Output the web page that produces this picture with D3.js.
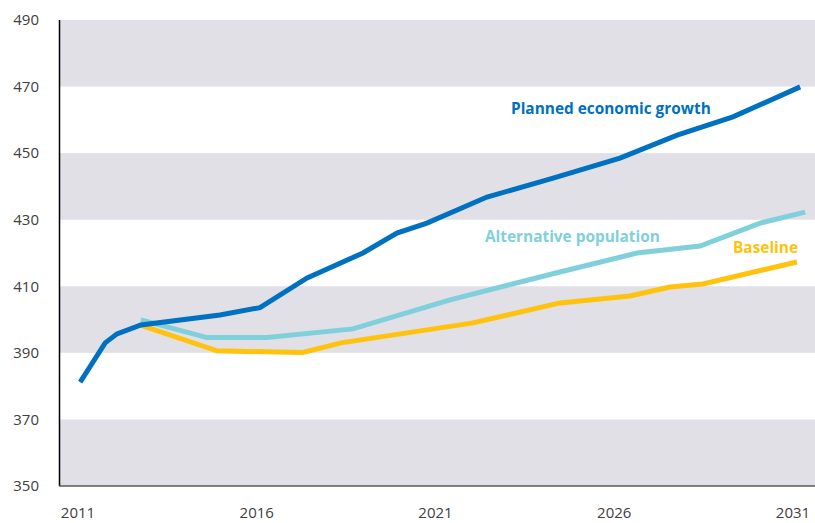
<!DOCTYPE html>
<html>
<head>
<meta charset="utf-8">
<script src="https://cdn.jsdelivr.net/npm/d3@7"></script>
<style>
  body { margin: 0; background: #fff; }
  text { font-family: "Open Sans", "Noto Sans", sans-serif; }
</style>
</head>
<body>
<div id="chart"></div>
<script>
// years (fractional, as plotted) and values for each scenario
var growthYears = [2011.06, 2011.76, 2012.09, 2012.76, 2014.97, 2016.09, 2017.41, 2018.97, 2019.92, 2020.76, 2022.44, 2024.29, 2026.16, 2027.76, 2029.32, 2031.2];
var growthVals  = [381.2, 393.0, 395.7, 398.4, 401.4, 403.6, 412.5, 420.0, 426.0, 429.0, 436.8, 442.5, 448.5, 455.4, 460.9, 469.9];

var altYears = [2012.76, 2014.61, 2016.29, 2018.69, 2021.41, 2024.48, 2026.64, 2028.40, 2030.08, 2031.34];
var altVals  = [399.9, 394.6, 394.6, 397.2, 405.9, 414.3, 420.0, 422.1, 429.0, 432.3];

var baseYears = [2012.73, 2014.89, 2016.29, 2017.29, 2018.36, 2022.05, 2024.48, 2026.44, 2027.56, 2028.48, 2031.11];
var baseVals  = [398.4, 390.6, 390.3, 390.1, 393.0, 399.0, 405.0, 407.1, 409.8, 410.7, 417.3];

var xTicks = [2011, 2016, 2021, 2026, 2031];
var yTicks = [350, 370, 390, 410, 430, 450, 470, 490];

var width = 815, height = 523;
var plotLeft = 59, plotRight = 815;

var svg = d3.select("#chart").append("svg")
    .attr("width", width)
    .attr("height", height);

var x = d3.scaleLinear().domain([2011, 2031]).range([78, 793]);
var y = d3.scaleLinear().domain([350, 490]).range([486, 20]);

// alternating bands
var bands = [];
for (var i = 0; i < yTicks.length - 1; i++) {
    if (i % 2 === 0) bands.push([yTicks[i], yTicks[i + 1]]);
}
svg.selectAll("rect.band")
    .data(bands)
    .enter().append("rect")
    .attr("class", "band")
    .attr("x", plotLeft)
    .attr("width", plotRight - plotLeft)
    .attr("y", function(d) { return y(d[1]); })
    .attr("height", function(d) { return y(d[0]) - y(d[1]); })
    .attr("fill", "#e1e0e6");

// axes lines
svg.append("line")
    .attr("x1", plotLeft + 0.5).attr("x2", plotLeft + 0.5)
    .attr("y1", y(490)).attr("y2", y(350))
    .attr("stroke", "#000").attr("stroke-width", 1.5);
svg.append("line")
    .attr("x1", plotLeft).attr("x2", plotRight)
    .attr("y1", y(350)).attr("y2", y(350))
    .attr("stroke", "#595959").attr("stroke-width", 1.5);

// tick labels
svg.selectAll("text.ylab")
    .data(yTicks)
    .enter().append("text")
    .attr("class", "ylab")
    .attr("x", 39)
    .attr("y", function(d) { return y(d); })
    .attr("dy", "0.35em")
    .attr("text-anchor", "end")
    .attr("font-size", 15)
    .attr("fill", "#404040")
    .text(function(d) { return d; });

svg.selectAll("text.xlab")
    .data(xTicks)
    .enter().append("text")
    .attr("class", "xlab")
    .attr("x", function(d) { return x(d); })
    .attr("y", 518)
    .attr("text-anchor", "middle")
    .attr("font-size", 15)
    .attr("fill", "#404040")
    .text(function(d) { return d; });

// lines
var series = [
    {years: baseYears, vals: baseVals, color: "#ffc20e"},
    {years: altYears, vals: altVals, color: "#80d0dc"},
    {years: growthYears, vals: growthVals, color: "#0070c0"}
];

var line = d3.line()
    .x(function(d) { return x(d[0]); })
    .y(function(d) { return y(d[1]); });

svg.selectAll("path.series")
    .data(series)
    .enter().append("path")
    .attr("class", "series")
    .attr("d", function(s) { return line(d3.zip(s.years, s.vals)); })
    .attr("fill", "none")
    .attr("stroke", function(s) { return s.color; })
    .attr("stroke-width", 5);

// series labels
var labels = [
    {text: "Planned economic growth", x: 511, y: 114, color: "#0070c0"},
    {text: "Alternative population", x: 485, y: 242, color: "#80d0dc"},
    {text: "Baseline", x: 733, y: 253, color: "#ffc20e"}
];
svg.selectAll("text.slab")
    .data(labels)
    .enter().append("text")
    .attr("class", "slab")
    .attr("x", function(d) { return d.x; })
    .attr("y", function(d) { return d.y; })
    .attr("font-size", 15.4)
    .attr("font-weight", "bold")
    .attr("fill", function(d) { return d.color; })
    .text(function(d) { return d.text; });
</script>
</body>
</html>
